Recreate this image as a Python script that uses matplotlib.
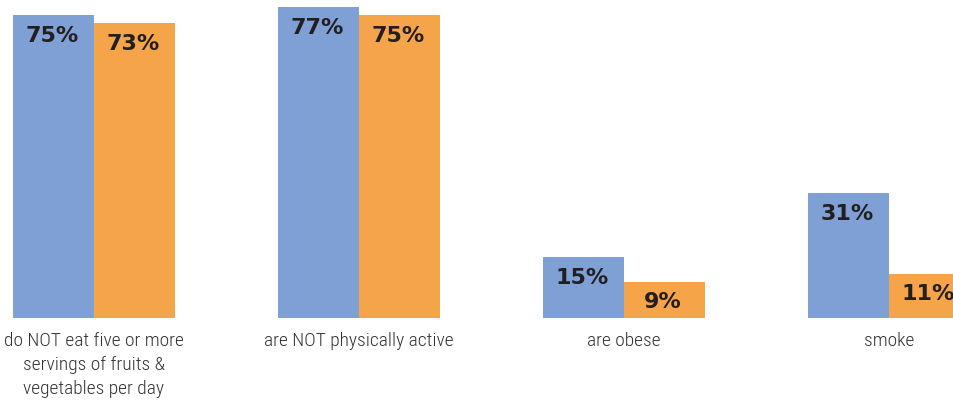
import matplotlib
matplotlib.use("Agg")
import matplotlib.pyplot as plt
from matplotlib import font_manager

categories = ["do NOT eat five or more\nservings of fruits &\nvegetables per day",
              "are NOT physically active",
              "are obese",
              "smoke"]
series_a = [75, 77, 15, 31]
series_b = [73, 75, 9, 11]

blue = "#7EA0D4"
orange = "#F6A44A"
dark = "#231F20"

# pick a narrow font for the category labels if one is around
names = set(f.name for f in font_manager.fontManager.ttflist)
label_font = "DejaVu Sans"
for cand in ["Roboto Condensed", "Open Sans Condensed", "Liberation Sans Narrow", "DejaVu Sans Condensed"]:
  if cand in names:
    label_font = cand
    break

fig = plt.figure(figsize=(9.54, 4.12), dpi=100)
ax = fig.add_axes([0, 94/412, 1, 318/412])

w = 0.306
x = list(range(len(categories)))
bars_a = ax.bar([i - w/2 for i in x], series_a, width=w, color=blue)
bars_b = ax.bar([i + w/2 for i in x], series_b, width=w, color=orange)

for bars, vals in [(bars_a, series_a), (bars_b, series_b)]:
  for b, v in zip(bars, vals):
    ax.annotate(f"{v}%", (b.get_x() + b.get_width()/2, v), xytext=(-1, -15),
                textcoords="offset points", ha="center", va="center",
                fontsize=16, fontweight="heavy", color=dark)

ax.set_xlim(-94/265, (954-94)/265)
ax.set_ylim(0, 318/4.04)
ax.set_xticks(x)
ax.set_xticklabels(categories, fontsize=14, color="#333333", family=label_font,
                   fontweight="light", linespacing=1.45)
ax.tick_params(axis="x", length=0, pad=10)
ax.set_yticks([])
for s in ax.spines.values():
  s.set_visible(False)

fig.savefig("out.png", dpi=100)
